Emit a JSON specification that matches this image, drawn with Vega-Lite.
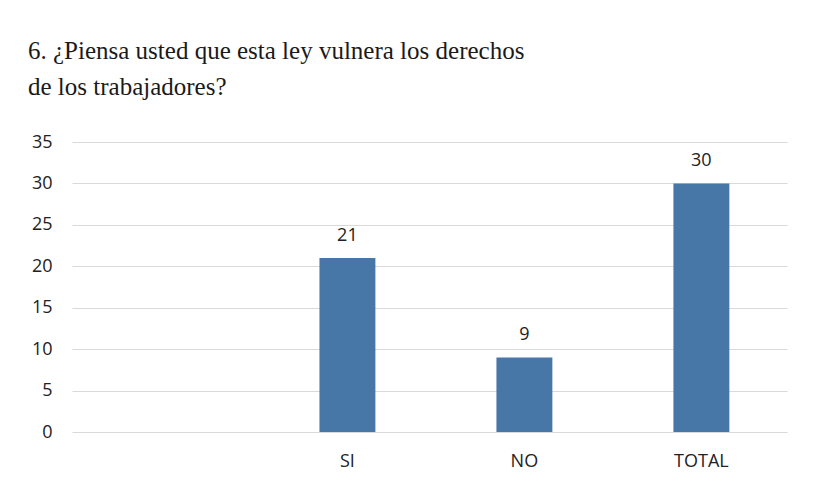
{
  "$schema": "https://vega.github.io/schema/vega-lite/v6.json",
  "autosize": {"type": "none"},
  "width": 715,
  "height": 290,
  "padding": {"left": 72, "top": 142, "right": 43, "bottom": 57},
  "background": "white",
  "title": {
    "text": ["6. ¿Piensa usted que esta ley vulnera los derechos", "de los trabajadores?"],
    "anchor": "start",
    "frame": "group",
    "font": "Liberation Serif",
    "fontSize": 25,
    "fontWeight": "normal",
    "color": "#1a1a1a",
    "lineHeight": 36,
    "baseline": "alphabetic",
    "dx": -44,
    "offset": 13
  },
  "data": {
    "values": [
      {"cat": "", "value": null},
      {"cat": "SI", "value": 21},
      {"cat": "NO", "value": 9},
      {"cat": "TOTAL", "value": 30}
    ]
  },
  "encoding": {
    "x": {
      "field": "cat",
      "type": "nominal",
      "sort": null,
      "scale": {"domain": ["", "SI", "NO", "TOTAL"], "paddingInner": 0.684, "paddingOuter": 0.362, "align": 0.55},
      "axis": {"title": null, "labelAngle": 0, "domain": false, "ticks": false, "labelPadding": 20, "labelFont": "Open Sans", "labelFontSize": 18, "labelColor": "#222222"}
    },
    "y": {
      "field": "value",
      "type": "quantitative",
      "scale": {"domain": [0, 35]},
      "axis": {"title": null, "values": [0, 5, 10, 15, 20, 25, 30, 35], "domain": false, "ticks": false, "labelPadding": 20, "labelFont": "Open Sans", "labelFontSize": 18, "labelColor": "#222222", "gridColor": "#d9d9d9", "gridWidth": 1}
    }
  },
  "layer": [
    {"mark": {"type": "bar", "color": "#4677a7"}},
    {"mark": {"type": "text", "baseline": "alphabetic", "dy": -17, "font": "Open Sans", "fontSize": 18, "color": "#222222"}, "encoding": {"text": {"field": "value", "type": "quantitative"}}}
  ],
  "config": {"view": {"stroke": null}}
}
